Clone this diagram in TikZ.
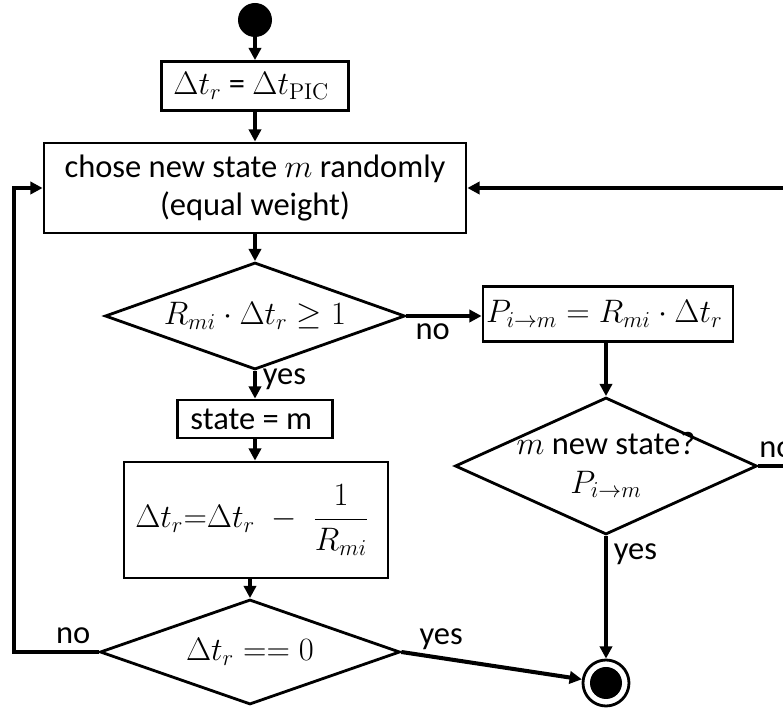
\RequirePackage{fix-cm}
\documentclass[tikz,border=0pt]{standalone}
\usepackage{amsmath}
\usepackage[no-math]{fontspec}
\setmainfont{Carlito}
\usetikzlibrary{shapes.geometric, arrows.meta, positioning, calc}

\begin{document}
\begin{tikzpicture}[
    font=\fontsize{18.5}{22}\selectfont,
    process/.style={draw, line width=1.6pt, align=center, inner sep=3pt},
    decision/.style={diamond, draw, line width=1.6pt, inner sep=0pt,
                     minimum width=6cm, minimum height=2.1cm},
    flow/.style={-{Triangle[length=7pt,width=7pt]}, line width=2.3pt},
    startstate/.style={circle, fill, minimum size=0.68cm, inner sep=0pt},
    endstate/.style={circle, draw, line width=1.6pt, minimum size=0.92cm, inner sep=0pt,
                     path picture={\fill (path picture bounding box.center) circle (0.32cm);}}
]
    \clip (0,0) rectangle (15.66,-14.18);

    \node[startstate] (init) at (5.10,-0.40) {};
    \node[process, minimum width=3.74cm, minimum height=0.98cm] (reset) at (5.10,-1.72) {
        $\Delta t_r$ = $\Delta t_{\mathrm{PIC}}$
    };
    \node[process, minimum width=8.44cm, minimum height=1.8cm] (choose) at (5.10,-3.76) {
        chose new state $m$ randomly\\
        (equal weight)
    };
    \node[decision, minimum height=2.14cm] (rate) at (5.10,-6.32) {
        \makebox[0pt]{$R_{mi}\cdot\Delta t_r\geq 1$}
    };
    \node[process, minimum width=3.1cm, minimum height=0.76cm] (accept) at (5.10,-8.38) {
        state = m
    };
    \node[process, minimum width=5.28cm, minimum height=2.32cm, inner sep=1pt] (update) at (5.12,-10.40) {
        $\Delta t_r{=}\Delta t_r\;-\;\dfrac{1}{R_{mi}}$
    };
    \node[decision] (zero) at (5.00,-13.04) {
        \makebox[0pt]{$\Delta t_r == 0$}
    };
    \node[process, minimum width=5cm, minimum height=1.1cm, inner sep=1pt] (prob) at (12.16,-6.28) {
        $P_{i\to m} = R_{mi}\cdot\Delta t_r$
    };
    \node[decision, minimum width=6.04cm, minimum height=2.74cm] (pick) at (12.12,-9.32) {
        \makebox[0pt]{\begin{tabular}{@{}c@{}}$m$ new state?\\ $P_{i\to m}$\end{tabular}}
    };
    \node[endstate] (done) at (12.12,-13.66) {};

    \coordinate (backL) at (0.28,-13.04);
    \coordinate (backR) at (16.00,-9.32);

    \draw[flow] (init) -- (reset);
    \draw[flow] (reset) -- (choose);
    \draw[flow] (choose) -- (rate);
    \draw[flow] (rate) -- node[right, pos=0.3] {yes} (rate.south |- accept.north);
    \draw[flow] (accept) -- (accept.south |- update.north);
    \draw[flow] (update.south -| zero.north) -- (zero.north);
    \draw[flow] (rate.east) -- node[below, pos=0.35] {no} (rate.east -| prob.west);
    \draw[flow] (prob.south -| pick.north) -- (pick.north);
    \draw[flow] (pick) -- node[right, pos=0.15] {yes} (done);
    \draw[flow] (zero.east) -- node[above, pos=0.22] {yes} (done);
    \draw[flow] (zero.west) -- node[above, pos=0.3] {no} (backL) |- (choose.west);
    \draw[flow] (pick.east) -- node[above right, pos=0, xshift=-4pt] {no} (backR) |- (choose.east);
\end{tikzpicture}
\end{document}
